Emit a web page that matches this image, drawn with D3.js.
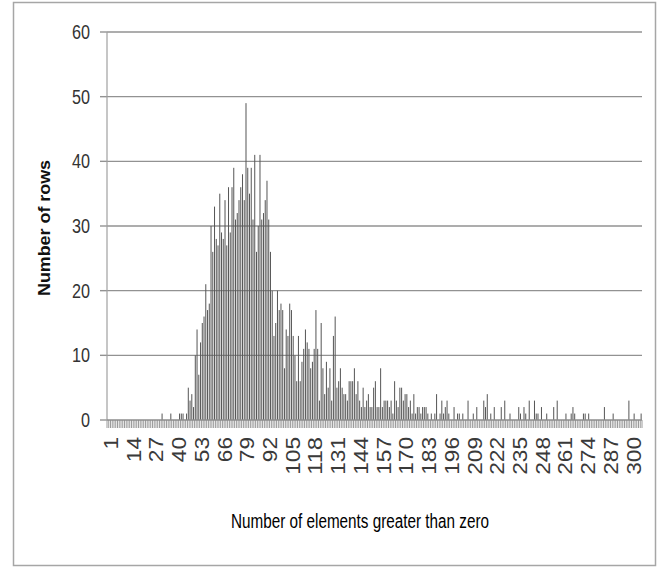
<!DOCTYPE html>
<html>
<head>
<meta charset="utf-8">
<script src="https://cdn.jsdelivr.net/npm/d3@7/dist/d3.min.js"></script>
<style>
  html, body { margin: 0; padding: 0; background: #fff; }
  svg { display: block; }
  text { font-family: "Liberation Sans", Arial, sans-serif; }
</style>
</head>
<body>
<svg id="chart" width="664" height="568"></svg>
<script>
// ---- data ----
const categories = d3.range(1, 307); // 1..306
const values = [
  0,0,0,0,0,0,0,0,0,0,
  0,0,0,0,0,0,0,0,0,0,
  0,0,0,0,0,0,0,0,0,0,
  0,1,0,0,0,0,1,0,0,0,
  0,1,1,1,0,1,5,3,4,2,
  10,14,7,12,15,16,21,17,18,30,
  26,33,28,27,35,29,28,34,27,36,
  29,36,39,31,32,34,36,38,34,49,
  39,35,39,31,41,26,30,41,31,32,
  34,37,31,26,20,13,15,20,17,18,
  17,8,14,13,18,17,13,10,6,13,
  6,9,11,14,12,11,8,9,11,17,
  11,3,15,8,4,9,5,8,3,13,
  16,5,6,8,5,4,4,3,6,6,
  6,8,4,6,3,2,5,2,3,4,
  2,2,5,6,2,2,8,2,3,3,
  3,2,3,1,6,3,2,5,5,3,
  4,4,2,3,1,4,1,2,2,1,
  2,2,2,1,0,1,0,1,4,0,
  1,3,1,2,3,1,0,0,2,0,
  1,1,0,1,0,0,3,0,0,1,
  0,2,0,0,0,3,2,4,0,1,
  0,2,0,0,0,2,0,3,0,0,
  1,0,0,0,0,2,1,0,2,1,
  0,3,0,0,3,1,1,0,2,0,
  0,1,0,0,0,2,0,3,0,0,
  0,0,1,0,0,1,2,1,0,0,
  0,0,1,1,0,1,0,0,0,0,
  0,0,0,0,2,0,0,0,0,1,
  0,0,0,0,0,0,0,0,3,0,
  0,1,0,0,0,1
];
const yTicks = [0, 10, 20, 30, 40, 50, 60];
const xTickLabels = ["1","14","27","40","53","66","79","92","105","118","131","144",
  "157","170","183","196","209","222","235","248","261","274","287","300"];
const xTitle = "Number of elements greater than zero";
const yTitle = "Number of rows";

// ---- layout ----
const svg = d3.select("#chart");
const pLeft = 107, pRight = 642, pTop = 32, pBottom = 420;

svg.append("rect")
  .attr("x", 13.5).attr("y", 2.5).attr("width", 642).attr("height", 563)
  .attr("fill", "#fff").attr("stroke", "#a6a6a6").attr("stroke-width", 1.5);

const x = d3.scaleBand().domain(categories).range([pLeft, pRight])
  .paddingInner(0.42).paddingOuter(0.21);
const y = d3.scaleLinear().domain([0, 60]).range([pBottom, pTop]);

// gridlines
svg.append("g").selectAll("line").data(yTicks.filter(d => d > 0)).join("line")
  .attr("x1", pLeft).attr("x2", pRight)
  .attr("y1", d => y(d)).attr("y2", d => y(d))
  .attr("stroke", "#929292").attr("stroke-width", 1.4);

// y tick marks
svg.append("g").selectAll("line").data(yTicks).join("line")
  .attr("x1", pLeft - 7).attr("x2", pLeft)
  .attr("y1", d => y(d)).attr("y2", d => y(d))
  .attr("stroke", "#929292").attr("stroke-width", 1.4);

// y axis line
svg.append("line").attr("x1", pLeft).attr("x2", pLeft)
  .attr("y1", y(60)).attr("y2", y(0))
  .attr("stroke", "#a0a0a0").attr("stroke-width", 1.2);

// x tick comb (category boundaries)
const step = x.step();
const gap = step - x.bandwidth();
const bounds = categories.map(c => x(c) - gap / 2)
  .concat([x(categories[categories.length - 1]) + x.bandwidth() + gap / 2]);
svg.append("g").selectAll("line").data(bounds).join("line")
  .attr("x1", d => d).attr("x2", d => d)
  .attr("y1", pBottom).attr("y2", pBottom + 8)
  .attr("stroke", "#9a9a9a").attr("stroke-width", 1);

// bars
svg.append("g").selectAll("rect").data(categories).join("rect")
  .attr("x", c => x(c))
  .attr("width", x.bandwidth())
  .attr("y", (c, i) => y(values[i]))
  .attr("height", (c, i) => y(0) - y(values[i]))
  .attr("fill", "#585858");

// x axis line
svg.append("line").attr("x1", pLeft).attr("x2", pRight)
  .attr("y1", pBottom).attr("y2", pBottom)
  .attr("stroke", "#8c8c8c").attr("stroke-width", 1.4);

// y tick labels
svg.append("g").selectAll("text").data(yTicks).join("text")
  .attr("x", 90).attr("y", d => y(d))
  .attr("text-anchor", "end").attr("dominant-baseline", "central")
  .attr("font-size", 20).attr("fill", "#333")
  .attr("textLength", d => String(d).length * 9)
  .attr("lengthAdjust", "spacingAndGlyphs")
  .text(d => d);

// x tick labels (rotated)
svg.append("g").selectAll("text").data(xTickLabels).join("text")
  .attr("transform", d => `translate(${x(+d) + x.bandwidth() / 2 + 3},437) rotate(-90)`)
  .attr("text-anchor", "end").attr("dominant-baseline", "central")
  .attr("font-size", 20).attr("fill", "#3a3a3a")
  .attr("textLength", d => d.length * 12.6)
  .attr("lengthAdjust", "spacingAndGlyphs")
  .text(d => d);

// axis titles
svg.append("text")
  .attr("x", 360).attr("y", 528)
  .attr("text-anchor", "middle")
  .attr("font-size", 20).attr("fill", "#000")
  .attr("textLength", 258).attr("lengthAdjust", "spacingAndGlyphs")
  .text(xTitle);

svg.append("text")
  .attr("transform", "translate(50,228) rotate(-90)")
  .attr("text-anchor", "middle")
  .attr("font-size", 17).attr("font-weight", "bold").attr("fill", "#111")
  .attr("textLength", 136).attr("lengthAdjust", "spacingAndGlyphs")
  .text(yTitle);
</script>
</body>
</html>
